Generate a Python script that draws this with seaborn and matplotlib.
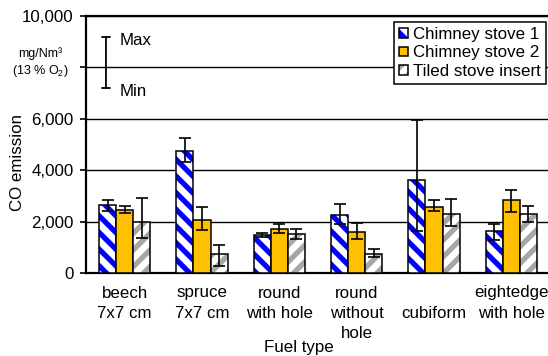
import matplotlib
matplotlib.use("Agg")
import matplotlib.pyplot as plt
import matplotlib.ticker as mticker
import seaborn as sns
import pandas as pd

# fuel types (x axis)
fuels = ["beech\n7x7 cm", "spruce\n7x7 cm", "round\nwith hole",
         "round\nwithout\nhole", "\ncubiform", "eightedge\nwith hole"]
stoves = ["Chimney stove 1", "Chimney stove 2", "Tiled stove insert"]

# mean CO emission, mg/Nm3 (13 % O2)
cs1_mean = [2650, 4750, 1470, 2260, 3600, 1640]
cs2_mean = [2450, 2080, 1700, 1590, 2560, 2850]
tsi_mean = [2000, 725, 1520, 725, 2310, 2290]
# min / max of the measurements
cs1_min = [2400, 4330, 1400, 1900, 1640, 1280]
cs1_max = [2850, 5240, 1550, 2700, 5970, 1890]
cs2_min = [2350, 1690, 1540, 1320, 2410, 2360]
cs2_max = [2600, 2570, 1890, 1960, 2830, 3240]
tsi_min = [1350, 280, 1340, 610, 1820, 1990]
tsi_max = [2900, 1090, 1700, 920, 2870, 2600]

df = pd.DataFrame({
    "fuel": fuels * 3,
    "stove": [s for s in stoves for _ in fuels],
    "co": cs1_mean + cs2_mean + tsi_mean,
})
mins = [cs1_min, cs2_min, tsi_min]
maxs = [cs1_max, cs2_max, tsi_max]
means = [cs1_mean, cs2_mean, tsi_mean]

sns.set_style("white", {"text.color": "black", "axes.labelcolor": "black",
                        "xtick.color": "black", "ytick.color": "black"})
plt.rcParams["font.family"] = ["Liberation Sans", "DejaVu Sans"]
plt.rcParams["mathtext.fontset"] = "custom"
plt.rcParams["mathtext.rm"] = "Liberation Sans"
plt.rcParams["hatch.linewidth"] = 3.8
FS = 12.2

fig = plt.figure(figsize=(5.48, 3.56), dpi=100)
ax = fig.add_axes([86 / 548, 83 / 356, 464 / 548, 257 / 356])

fills = ["white", "#ffc000", "white"]
hatches = ["\\\\", "", "//"]
hatch_cols = ["#0000ff", "#ffc000", "#a6a6a6"]

sns.barplot(data=df, x="fuel", y="co", hue="stove", palette=fills,
            saturation=1, width=0.66, gap=0, edgecolor="black", linewidth=1.1,
            errorbar=None, legend=False, ax=ax, zorder=3)

bar_conts = list(ax.containers)
for i, cont in enumerate(bar_conts):
    xs = []
    for p in cont.patches:
        p.set_hatch(hatches[i])
        if hasattr(p, "set_hatchcolor"):
            p.set_hatchcolor(hatch_cols[i])
        else:
            p._hatch_color = matplotlib.colors.to_rgba(hatch_cols[i])
        xs.append(p.get_x() + p.get_width() / 2)
    lo = [m - a for m, a in zip(means[i], mins[i])]
    hi = [b - m for m, b in zip(means[i], maxs[i])]
    ax.errorbar(xs, means[i], yerr=[lo, hi], fmt="none", ecolor="black",
                elinewidth=1.2, capsize=4.3, capthick=1.2, zorder=4)

ax.set_ylim(0, 10000)
ax.set_xlim(-0.5, 5.5)
ax.yaxis.set_major_locator(mticker.MultipleLocator(2000))
ax.yaxis.set_major_formatter(
    mticker.FuncFormatter(lambda v, pos: "" if v == 8000 else f"{v:,.0f}"))
ax.grid(axis="y", color="black", linewidth=1, zorder=0)
ax.set_axisbelow(True)

ax.xaxis.set_minor_locator(mticker.FixedLocator([k - 0.5 for k in range(7)]))
ax.tick_params(axis="x", which="major", length=0, pad=9, labelsize=FS,
               colors="black")
ax.tick_params(axis="x", which="minor", length=4, width=1.2, direction="out",
               colors="black")
ax.tick_params(axis="y", length=4, width=1.2, direction="out", pad=5,
               labelsize=FS, left=True, colors="black")
for t in ax.get_xticklabels():
    t.set_linespacing(1.45)

for s in ["left", "bottom", "top"]:
    ax.spines[s].set_color("black")
    ax.spines[s].set_linewidth(1.6)
ax.spines["right"].set_visible(False)

ax.set_xlabel("Fuel type", fontsize=FS, color="black")
ax.set_ylabel("CO emission", fontsize=FS, color="black")
ax.xaxis.set_label_coords(0.459, -0.262)
ax.yaxis.set_label_coords(-0.131, 0.43)

# min/max key
ax.annotate("", xy=(0.043, 0.72), xytext=(0.043, 0.918),
            xycoords="axes fraction",
            arrowprops=dict(arrowstyle="|-|, widthA=0.3, widthB=0.3",
                            lw=1.3, color="black", shrinkA=0, shrinkB=0))
ax.text(0.073, 0.906, "Max", transform=ax.transAxes, fontsize=FS, va="center",
        color="black")
ax.text(0.073, 0.705, "Min", transform=ax.transAxes, fontsize=FS, va="center",
        color="black")
fig.text(40 / 548, 1 - 63 / 356, "mg/Nm³\n(13 % O$_\\mathregular{2}$)",
         ha="center", va="center", fontsize=9, linespacing=1.3, color="black")

handles = [c.patches[0] for c in bar_conts]
leg = ax.legend(handles, stoves, loc="upper right", bbox_to_anchor=(0.991, 0.977),
                fontsize=FS, frameon=True, fancybox=False, framealpha=1,
                edgecolor="black", handlelength=0.5, handleheight=0.5,
                handletextpad=0.3, borderpad=0.3, labelspacing=0.2,
                borderaxespad=0, labelcolor="black")
leg.get_frame().set_linewidth(1.1)
leg.set_zorder(5)

fig.savefig("out.png", dpi=100)
